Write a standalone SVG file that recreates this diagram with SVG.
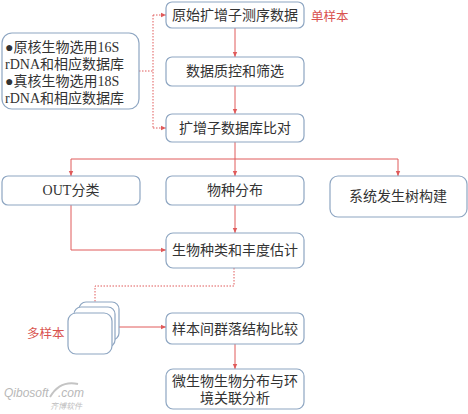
<svg xmlns="http://www.w3.org/2000/svg" width="468" height="414" viewBox="0 0 468 414">
<style>
.box{fill:#fff;stroke:#8ea6c2;stroke-width:1.2}
.t{font-family:"Liberation Serif","Noto Sans CJK SC",serif;font-size:14px;fill:#333;text-anchor:middle;dominant-baseline:central}
.tl{font-family:"Liberation Serif","Noto Sans CJK SC",serif;font-size:14px;fill:#333;dominant-baseline:central}
.red{font-family:"Noto Sans CJK SC",sans-serif;font-size:12.5px;fill:#d9534f;dominant-baseline:central}
.ln{fill:none;stroke:#e05a5a;stroke-width:1}
.dl{fill:none;stroke:#e05a5a;stroke-width:1;stroke-dasharray:1.5 1.5}
.wm{font-family:"Liberation Sans",sans-serif;font-style:italic;fill:#b8b8b8}
</style>
<defs>
<marker id="ah" markerWidth="6" markerHeight="6" refX="5" refY="3" orient="auto" markerUnits="userSpaceOnUse">
<path d="M0,0.8 L5,3 L0,5.2 Z" fill="#e05a5a"/>
</marker>
</defs>
<rect width="468" height="414" fill="#fff"/>
<g id="connectors">
<path class="dl" d="M139,71 H153"/>
<path class="dl" d="M153,15 V128"/>
<path class="dl" d="M153,15 H166" marker-end="url(#ah)"/>
<path class="dl" d="M153,128 H166" marker-end="url(#ah)"/>
<path class="ln" d="M235,28 V57" marker-end="url(#ah)"/>
<path class="ln" d="M235,86 V114" marker-end="url(#ah)"/>
<path class="ln" d="M235,142 V176" marker-end="url(#ah)"/>
<path class="ln" d="M71,159 H398"/>
<path class="ln" d="M71,159 V176" marker-end="url(#ah)"/>
<path class="ln" d="M398,159 V176" marker-end="url(#ah)"/>
<path class="ln" d="M71,205 V250 H166" marker-end="url(#ah)"/>
<path class="ln" d="M235,205 V233" marker-end="url(#ah)"/>
<path class="dl" d="M234,268 V286 H95 V307" marker-end="url(#ah)"/>
<path class="ln" d="M112,327 H166" marker-end="url(#ah)"/>
<path class="ln" d="M235,344 V369" marker-end="url(#ah)"/>
</g>
<g id="n_raw"><rect class="box" x="166" y="2" width="138" height="26" rx="6"/><text class="t" x="235" y="15">原始扩增子测序数据</text></g>
<g id="lbl_single"><text class="red" x="311" y="15">单样本</text></g>
<g id="n_db"><rect class="box" x="2" y="33" width="137" height="76" rx="10"/>
<text class="tl" x="5" y="47">●原核生物选用16S</text>
<text class="tl" x="5" y="64">rDNA和相应数据库</text>
<text class="tl" x="5" y="81">●真核生物选用18S</text>
<text class="tl" x="5" y="98">rDNA和相应数据库</text></g>
<g id="n_qc"><rect class="box" x="166" y="57" width="138" height="29" rx="6"/><text class="t" x="235" y="71">数据质控和筛选</text></g>
<g id="n_align"><rect class="box" x="166" y="114" width="138" height="28" rx="6"/><text class="t" x="235" y="128">扩增子数据库比对</text></g>
<g id="n_otu"><rect class="box" x="2" y="176" width="138" height="29" rx="6"/><text class="t" x="71" y="190">OUT分类</text></g>
<g id="n_species"><rect class="box" x="166" y="176" width="138" height="29" rx="6"/><text class="t" x="235" y="190">物种分布</text></g>
<g id="n_tree"><rect class="box" x="330" y="176" width="137" height="41" rx="8"/><text class="t" x="398" y="196">系统发生树构建</text></g>
<g id="n_abund"><rect class="box" x="166" y="233" width="138" height="35" rx="7"/><text class="t" x="235" y="250">生物种类和丰度估计</text></g>
<g id="n_multi">
<rect class="box" x="79" y="302" width="40" height="38" rx="7"/>
<rect class="box" x="74" y="307" width="41" height="40" rx="7"/>
<rect class="box" x="68" y="313" width="44" height="41" rx="8"/>
</g>
<g id="lbl_multi"><text class="red" x="27" y="332">多样本</text></g>
<g id="n_comm"><rect class="box" x="166" y="313" width="138" height="31" rx="6"/><text class="t" x="235" y="329">样本间群落结构比较</text></g>
<g id="n_env"><rect class="box" x="166" y="369" width="138" height="40" rx="7"/>
<text class="t" x="235" y="381">微生物生物分布与环</text>
<text class="t" x="235" y="398">境关联分析</text></g>
<g id="watermark">
<text class="wm" x="4" y="397" font-size="12">Qibosoft</text>
<path d="M50,397 Q60,380 78,384" fill="none" stroke="#c4c4c4" stroke-width="2"/>
<text class="wm" x="58" y="397" font-size="12">.com</text>
<text x="50" y="409" font-family="Noto Sans CJK SC,sans-serif" font-size="8" font-style="italic" fill="#c0c0c0">齐博软件</text>
</g>
</svg>
